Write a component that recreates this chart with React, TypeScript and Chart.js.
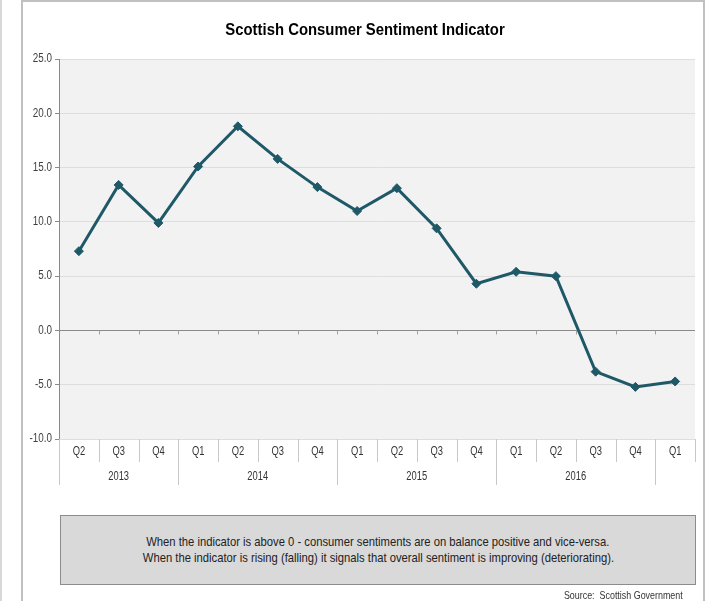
import { useEffect, useRef } from 'react';
import { Chart, registerables } from 'chart.js';

Chart.register(...registerables);

const quarterLabels = ['Q2', 'Q3', 'Q4', 'Q1', 'Q2', 'Q3', 'Q4', 'Q1', 'Q2', 'Q3', 'Q4', 'Q1', 'Q2', 'Q3', 'Q4', 'Q1'];
const yearLabels = ['2013', '2014', '2015', '2016', ''];
const yearSpans = [3, 4, 4, 4, 1];
const sentimentValues = [7.3, 13.4, 9.9, 15.1, 18.8, 15.8, 13.2, 11.0, 13.1, 9.4, 4.3, 5.4, 5.0, -3.8, -5.2, -4.7];
const yMin = -10;
const yMax = 25;
const yStep = 5;

const titleText = 'Scottish Consumer Sentiment Indicator';
const noteLines = [
  'When the indicator is above 0 - consumer sentiments are on balance positive and vice-versa.',
  'When the indicator is rising (falling) it signals that overall sentiment is improving (deteriorating).',
];
const sourceText = 'Source:  Scottish Government';

const FONT = '"Liberation Sans", Arial, sans-serif';
const LINE_COLOR = '#1f5968';
const NARROW = 0.82;

function narrowText(ctx: any, text: string, x: number, y: number, sx: number) {
  ctx.save();
  ctx.translate(x, y);
  ctx.scale(sx, 1);
  ctx.fillText(text, 0, 0);
  ctx.restore();
}

const decorPlugin = {
  id: 'decor',
  beforeDraw(chart: any) {
    const { ctx, chartArea } = chart;
    ctx.save();
    ctx.fillStyle = '#f2f2f2';
    ctx.fillRect(chartArea.left, chartArea.top, chartArea.right - chartArea.left, chartArea.bottom - chartArea.top);
    ctx.restore();
  },
  afterDraw(chart: any) {
    const { ctx, chartArea } = chart;
    const xs = chart.scales.x;
    const ys = chart.scales.y;
    const n = quarterLabels.length;
    const w = xs.getPixelForValue(1) - xs.getPixelForValue(0);
    const boundary = (k: number) => xs.getPixelForValue(0) - w / 2 + k * w;
    const y0 = ys.getPixelForValue(0);
    const bottom = chartArea.bottom;

    ctx.save();
    // title
    ctx.fillStyle = '#000';
    ctx.font = `bold 17px ${FONT}`;
    ctx.textAlign = 'center';
    ctx.textBaseline = 'middle';
    narrowText(ctx, titleText, 365, 30, 0.875);

    // y tick labels
    ctx.fillStyle = '#404040';
    ctx.font = `12px ${FONT}`;
    ctx.textAlign = 'right';
    ys.ticks.forEach((t: any) => {
      narrowText(ctx, Number(t.value).toFixed(1), chartArea.left - 7, ys.getPixelForValue(t.value), NARROW);
    });

    // small ticks on zero line
    ctx.strokeStyle = '#a0a0a0';
    ctx.lineWidth = 1;
    for (let k = 1; k < n; k++) {
      const x = Math.round(boundary(k)) + 0.5;
      ctx.beginPath();
      ctx.moveTo(x, y0);
      ctx.lineTo(x, y0 + 4);
      ctx.stroke();
    }

    // separators below plot
    const yearBounds = new Set<number>();
    let acc = 0;
    yearBounds.add(0);
    yearSpans.forEach((s) => { acc += s; yearBounds.add(acc); });
    ctx.strokeStyle = '#c8c8c8';
    for (let k = 0; k <= n; k++) {
      const x = Math.round(boundary(k)) + 0.5;
      const long = yearBounds.has(k) && k < n;
      ctx.beginPath();
      ctx.moveTo(x, bottom);
      ctx.lineTo(x, bottom + (long ? 46 : 23));
      ctx.stroke();
    }

    // quarter labels
    ctx.fillStyle = '#333';
    ctx.font = `12px ${FONT}`;
    ctx.textAlign = 'center';
    for (let i = 0; i < n; i++) {
      narrowText(ctx, quarterLabels[i], xs.getPixelForValue(i), bottom + 13, 0.78);
    }
    // year labels
    let start = 0;
    yearLabels.forEach((lab, j) => {
      const end = start + yearSpans[j];
      if (lab) narrowText(ctx, lab, (boundary(start) + boundary(end)) / 2, bottom + 38, 0.78);
      start = end;
    });
    ctx.restore();
  },
};

export default function App() {
  const ref = useRef<HTMLCanvasElement>(null);
  useEffect(() => {
    document.body.style.margin = '0';
    const chart = new Chart(ref.current as HTMLCanvasElement, {
      type: 'line',
      data: {
        labels: quarterLabels,
        datasets: [
          {
            data: sentimentValues,
            borderColor: LINE_COLOR,
            backgroundColor: LINE_COLOR,
            borderWidth: 3,
            pointStyle: 'rectRot',
            pointRadius: 4.5,
            pointBorderWidth: 1,
            pointBackgroundColor: LINE_COLOR,
            pointBorderColor: LINE_COLOR,
            tension: 0,
          },
        ],
      },
      options: {
        responsive: false,
        animation: false,
        layout: { padding: { top: 59, right: 18, left: 0, bottom: 0 } },
        plugins: { legend: { display: false }, tooltip: { enabled: false }, title: { display: false } },
        scales: {
          x: {
            type: 'category',
            offset: true,
            grid: { display: false },
            border: { display: false },
            ticks: { display: false },
            afterFit: (s: any) => { s.height = 162; },
          },
          y: {
            min: yMin,
            max: yMax,
            ticks: {
              stepSize: yStep,
              display: false,
            },
            grid: {
              color: (c: any) => (c.tick && c.tick.value === 0 ? '#8a8a8a' : '#dedede'),
              tickColor: '#8a8a8a',
              tickLength: 4,
            },
            border: { display: true, color: '#8a8a8a' },
            afterFit: (s: any) => { s.width = 59; },
          },
        },
      },
      plugins: [decorPlugin],
    } as any);
    return () => chart.destroy();
  }, []);

  return (
    <div style={{ position: 'fixed', left: 0, top: 0, width: 713, height: 601, background: '#fff', overflow: 'hidden' }}>
      <div style={{ position: 'absolute', left: 0, top: 0, width: 2, height: 601, background: '#d8d8d8' }} />
      <div
        style={{
          position: 'absolute', left: 21, top: 0, width: 680, height: 640,
          borderTop: '2px solid #c0c0c0', borderLeft: '2px solid #c0c0c0', borderRight: '2px solid #c0c0c0',
        }}
      />
      <canvas ref={ref} width={713} height={601} style={{ position: 'absolute', left: 0, top: 0 }} />
      <div
        style={{
          position: 'absolute', left: 60, top: 515, width: 634, height: 68,
          background: '#d9d9d9', border: '1px solid #8c8c8c',
          display: 'flex', flexDirection: 'column', justifyContent: 'center', alignItems: 'center',
          fontFamily: FONT, fontSize: 13, lineHeight: '16px', color: '#222',
        }}
      >
        {noteLines.map((l, i) => (
          <div key={i} style={{ transform: 'scaleX(0.865)', whiteSpace: 'nowrap' }}>{l}</div>
        ))}
      </div>
      <div
        style={{
          position: 'absolute', right: 30, top: 589, fontFamily: FONT, fontSize: 11, lineHeight: '12px', color: '#333',
          whiteSpace: 'pre', transform: 'scaleX(0.81)', transformOrigin: 'right center',
        }}
      >
        {sourceText}
      </div>
    </div>
  );
}
